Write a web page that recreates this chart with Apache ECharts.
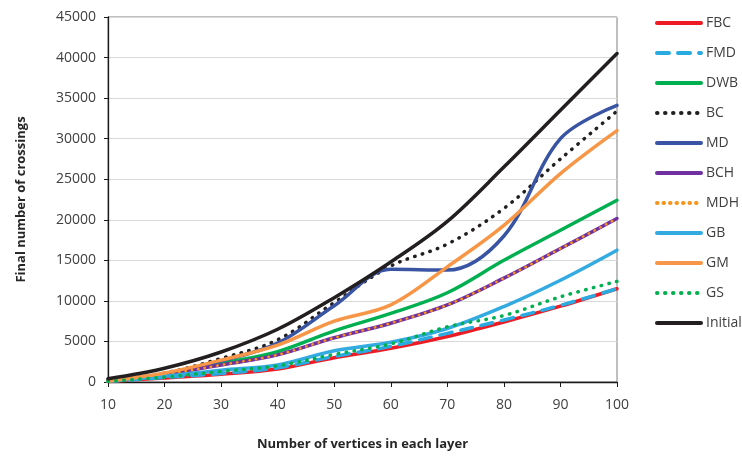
<!DOCTYPE html>
<html>
<head>
<meta charset="utf-8">
<script src="https://cdn.jsdelivr.net/npm/echarts@6/dist/echarts.min.js"></script>
<style>
  html, body { margin: 0; padding: 0; background: #fff; }
  #chart { width: 742px; height: 457px; }
</style>
</head>
<body>
<div id="chart"></div>
<script>
// x: vertices in each layer
const vertices = [10, 20, 30, 40, 50, 60, 70, 80, 90, 100]

// final number of crossings per method
const FBC = [50, 500, 950, 1600, 3000, 4150, 5600, 7400, 9350, 11500]
const FMD = [80, 550, 1050, 1750, 3150, 4400, 6000, 7650, 9450, 11500]
const DWB = [100, 1000, 2300, 3750, 6300, 8450, 11000, 15000, 18700, 22400]
const BC = [200, 1100, 2900, 5200, 9800, 14300, 17000, 21400, 27500, 33400]
const MD = [100, 1000, 2600, 4800, 9400, 13900, 13800, 18000, 30000, 34100]
const BCH = [100, 950, 2100, 3350, 5450, 7250, 9500, 12800, 16450, 20150]
const MDH = [100, 950, 2100, 3350, 5450, 7250, 9500, 12800, 16450, 20150]
const GB = [100, 700, 1450, 2100, 3850, 4900, 6600, 9300, 12550, 16250]
const GM = [100, 1100, 2700, 4550, 7500, 9500, 14200, 19300, 25700, 31000]
const GS = [80, 600, 1300, 2000, 3400, 4700, 6800, 8200, 10500, 12400]
const Initial = [400, 1700, 3700, 6500, 10400, 14800, 19800, 26500, 33500, 40500]

const font = '"Open Sans", sans-serif'

// name, values, colour, width, dash
const seriesDefs = [
  ['FBC', FBC, '#ed1c24', 3.5, 'solid'],
  ['FMD', FMD, '#29abe2', 3.5, [12, 9]],
  ['DWB', DWB, '#00b050', 3.5, 'solid'],
  ['BC', BC, '#231f20', 3.5, [0.5, 7.5]],
  ['MD', MD, '#3a54a4', 3.5, 'solid'],
  ['BCH', BCH, '#7030a0', 3.5, 'solid'],
  ['MDH', MDH, '#f7941d', 2.5, [0.5, 6]],
  ['GB', GB, '#33aae0', 3.5, 'solid'],
  ['GM', GM, '#f79646', 3.5, 'solid'],
  ['GS', GS, '#00b050', 3.5, [0.5, 7.5]],
  ['Initial', Initial, '#231f20', 3.5, 'solid']
]

const chart = echarts.init(document.getElementById('chart'))

const option = {
  animation: false,
  backgroundColor: '#fff',
  grid: {
    left: 108,
    right: 125,
    top: 17,
    bottom: 75,
    show: true,
    borderColor: '#7f7f7f',
    borderWidth: 1
  },
  legend: {
    orient: 'vertical',
    left: 655,
    top: 16,
    padding: 0,
    itemWidth: 44,
    itemHeight: 14,
    itemGap: 16,
    // hide the marker circle, keep the inherited line style
    itemStyle: { color: 'rgba(0,0,0,0)', borderColor: 'rgba(0,0,0,0)', borderWidth: 0 },
    lineStyle: { width: 4 },
    textStyle: { fontFamily: font, fontSize: 14, color: '#404040' },
    data: seriesDefs.map(d => d[0])
  },
  xAxis: {
    type: 'value',
    min: 10,
    max: 100,
    interval: 10,
    name: 'Number of vertices in each layer',
    nameLocation: 'middle',
    nameGap: 56,
    nameTextStyle: { fontFamily: font, fontSize: 13, fontWeight: 'bold', color: '#262626' },
    axisLine: { lineStyle: { color: '#1a1a1a', width: 1.3 } },
    axisTick: { show: true, length: 5, lineStyle: { color: '#1a1a1a' } },
    axisLabel: { fontFamily: font, fontSize: 14, color: '#404040', margin: 16 },
    splitLine: { show: false }
  },
  yAxis: {
    type: 'value',
    min: 0,
    max: 45000,
    interval: 5000,
    name: 'Final number of crossings',
    nameLocation: 'middle',
    nameGap: 80,
    nameTextStyle: { fontFamily: font, fontSize: 13, fontWeight: 'bold', color: '#262626' },
    axisLine: { show: true, lineStyle: { color: '#1a1a1a', width: 1.3 } },
    axisTick: { show: true, length: 4, lineStyle: { color: '#1a1a1a' } },
    axisLabel: {
      fontFamily: font, fontSize: 14, color: '#404040', margin: 12,
      formatter: v => String(v)
    },
    splitLine: { lineStyle: { color: '#d9d9d9', width: 1 } }
  },
  series: seriesDefs.map(([name, values, color, width, dash]) => ({
    name: name,
    type: 'line',
    smooth: 0.35,
    symbol: 'none',
    data: vertices.map((v, i) => [v, values[i]]),
    itemStyle: { color: color },
    lineStyle: { color: color, width: width, type: dash, cap: 'round' }
  }))
}

chart.setOption(option)
</script>
</body>
</html>
